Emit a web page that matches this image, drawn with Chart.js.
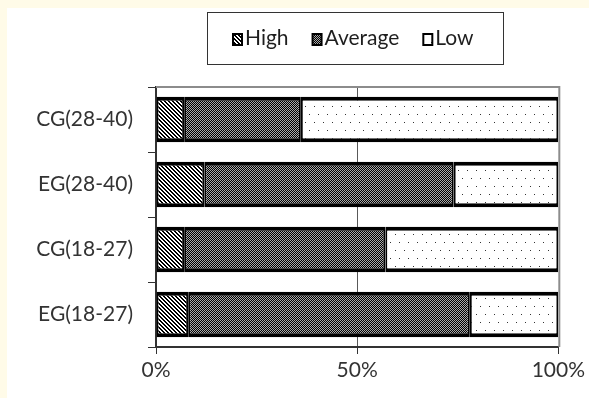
<!DOCTYPE html>
<html>
<head>
<meta charset="utf-8">
<script src="https://cdn.jsdelivr.net/npm/chart.js@4"></script>
<style>
  html, body { margin: 0; padding: 0; background: #fffbe8; }
  #wrap { position: absolute; left: 7px; top: 8px; width: 582px; height: 390px; background: #fff; }
</style>
</head>
<body>
<div id="wrap"><canvas id="myChart" width="582" height="390"></canvas></div>
<script>
// values (percent of each group)
const groups = ['CG(28-40)', 'EG(28-40)', 'CG(18-27)', 'EG(18-27)'];
const high = [7, 12, 7, 8];
const average = [29, 62, 50, 70];
const low = [64, 26, 43, 22];
const xTicks = [0, 50, 100];

const canvas = document.getElementById('myChart');
const ctx = canvas.getContext('2d');

// small tile patterns like the old excel fills
function tile(w, h, draw) {
  const c = document.createElement('canvas');
  c.width = w; c.height = h;
  const g = c.getContext('2d');
  g.fillStyle = '#fff';
  g.fillRect(0, 0, w, h);
  draw(g);
  return ctx.createPattern(c, 'repeat');
}

const stripes = tile(4, 4, g => {
  g.fillStyle = '#000';
  for (let y = 0; y < 4; y++)
    for (let x = 0; x < 4; x++)
      if (((x - y + 8) % 4) < 2) g.fillRect(x, y, 1, 1);
});

const checker = tile(2, 2, g => {
  g.fillStyle = '#aaa';
  g.fillRect(0, 0, 2, 2);
  g.fillStyle = '#000';
  g.fillRect(0, 0, 1, 1);
  g.fillRect(1, 1, 1, 1);
});

const dots = tile(9, 16, g => {
  g.fillStyle = '#333';
  g.fillRect(1, 2, 1, 1);
  g.fillRect(5, 10, 1, 1);
});

const frame = {
  id: 'frame',
  afterDatasetsDraw(chart) {
    const a = chart.chartArea, c = chart.ctx;
    c.save();
    c.strokeStyle = '#8c8c8c';
    c.lineWidth = 2;
    c.beginPath();
    c.moveTo(a.left, a.top);
    c.lineTo(a.right + 2, a.top);
    c.moveTo(a.right + 1, a.top);
    c.lineTo(a.right + 1, a.bottom);
    c.stroke();
    c.restore();
  }
};

const boxLegend = {
  id: 'boxLegend',
  afterDraw(chart) {
    const c = chart.ctx;
    c.save();
    c.strokeStyle = '#333';
    c.lineWidth = 1;
    c.strokeRect(200.5, 4.5, 296, 52);
    c.font = '21px Lato';
    c.textBaseline = 'alphabetic';
    let x = 225;
    chart.data.datasets.forEach(ds => {
      c.fillStyle = '#000';
      c.fillRect(x, 25, 11, 13);
      c.fillStyle = ds.backgroundColor;
      c.fillRect(x + 2, 27, 7, 9);
      c.fillStyle = '#1e1e1e';
      c.fillText(ds.label, x + 13, 37);
      x += 13 + c.measureText(ds.label).width + 23;
    });
    c.restore();
  }
};

Chart.defaults.font.family = 'Lato';
Chart.defaults.font.size = 21;
Chart.defaults.color = '#333';

new Chart(canvas, {
  type: 'bar',
  data: {
    labels: groups,
    datasets: [
      { label: 'High', data: high, backgroundColor: stripes },
      { label: 'Average', data: average, backgroundColor: checker },
      { label: 'Low', data: low, backgroundColor: dots }
    ].map(d => Object.assign(d, {
      borderColor: '#000',
      borderWidth: { top: 4, bottom: 4, left: 2, right: 2 },
      borderSkipped: false,
      barPercentage: 0.7,
      categoryPercentage: 1
    }))
  },
  options: {
    indexAxis: 'y',
    responsive: false,
    animation: false,
    layout: { padding: { top: 79, right: 27, left: 0, bottom: 0 } },
    plugins: { legend: { display: false }, tooltip: { enabled: false } },
    scales: {
      x: {
        stacked: true,
        min: 0,
        max: 100,
        afterBuildTicks: s => { s.ticks = xTicks.map(v => ({ value: v })); },
        afterFit: s => { s.height = 51; },
        ticks: { callback: v => v + '%', padding: 4, maxRotation: 0 },
        grid: {
          color: c => (c.tick && c.tick.value === 50) ? '#595959' : 'rgba(0,0,0,0)',
          tickColor: '#333',
          tickLength: 7,
          tickWidth: 1
        },
        border: { color: '#333', width: 2 }
      },
      y: {
        stacked: true,
        afterFit: s => { s.width = 149; },
        ticks: { padding: 15 },
        grid: {
          drawOnChartArea: false,
          tickColor: '#333',
          tickLength: 8,
          tickWidth: 1
        },
        border: { color: '#333', width: 2 }
      }
    }
  },
  plugins: [frame, boxLegend]
});
</script>
</body>
</html>
